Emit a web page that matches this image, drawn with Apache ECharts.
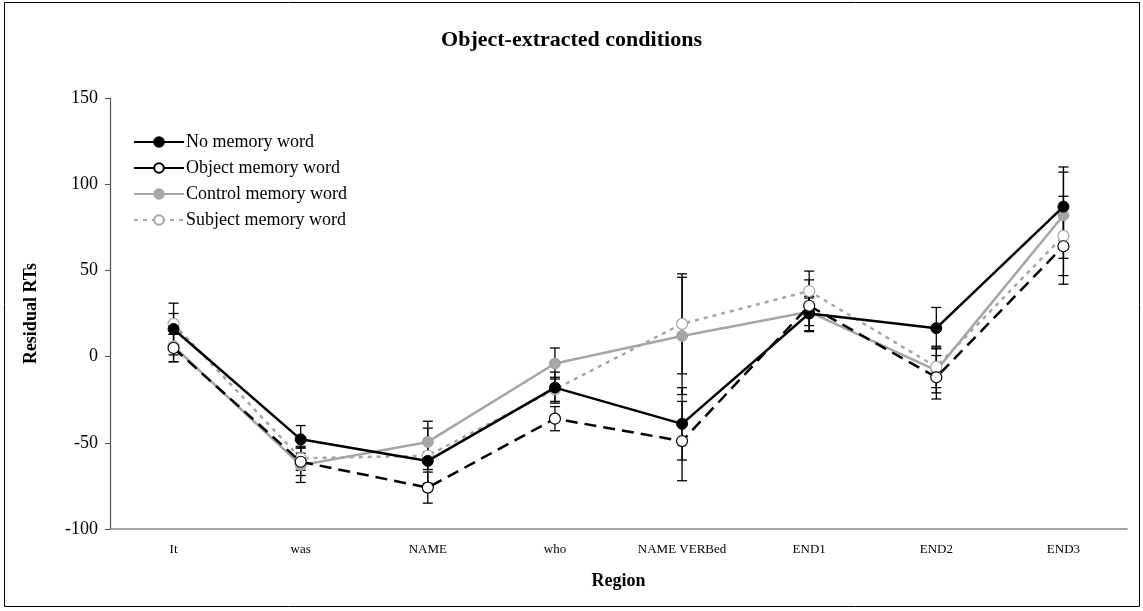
<!DOCTYPE html>
<html>
<head>
<meta charset="utf-8">
<script src="https://cdn.jsdelivr.net/npm/echarts@6/dist/echarts.min.js"></script>
<style>html,body{margin:0;padding:0;background:#fff}#c{width:1143px;height:611px}</style>
</head>
<body>
<div id="c"></div>
<script>
var categories = ['It', 'was', 'NAME', 'who', 'NAME VERBed', 'END1', 'END2', 'END3'];
var noMemory      = [16, -48, -60.5, -18, -39, 25, 16.5, 87];
var objectMemory  = [5, -61, -76, -36, -49, 29.5, -12, 64];
var controlMemory = [6, -63, -49.5, -4, 12, 26, -8, 82];
var subjectMemory = [19, -59, -57.5, -19, 19, 38, -6, 70];
var noMemoryErr      = [15, 8, 5, 9, 21, 10, 12, 23];
var objectMemoryErr  = [8, 8, 9, 7, 23, 15, 12.6, 22];
var controlMemoryErr = [9, 10, 12, 9, 34, 8, 13, 25];
var subjectMemoryErr = [6, 7, 16, 7, 29, 11.6, 12, 23];
var yTicks = [-100, -50, 0, 50, 100, 150];

var serif = '"Liberation Serif","DejaVu Serif",serif';
var gray = '#a6a6a6';

function errData(vals, errs) {
  return vals.map(function (v, i) { return [i, v - errs[i], v + errs[i]]; });
}
function errSeries(vals, errs) {
  return {
    type: 'custom',
    z: 1,
    silent: true,
    data: errData(vals, errs),
    encode: { x: 0, y: [1, 2] },
    renderItem: function (params, api) {
      var x = api.value(0);
      var lo = api.coord([x, api.value(1)]);
      var hi = api.coord([x, api.value(2)]);
      var w = 5;
      var st = { stroke: '#000', lineWidth: 1.3 };
      return {
        type: 'group',
        children: [
          { type: 'line', shape: { x1: lo[0], y1: lo[1], x2: hi[0], y2: hi[1] }, style: st },
          { type: 'line', shape: { x1: lo[0] - w, y1: lo[1], x2: lo[0] + w, y2: lo[1] }, style: st },
          { type: 'line', shape: { x1: hi[0] - w, y1: hi[1], x2: hi[0] + w, y2: hi[1] }, style: st }
        ]
      };
    }
  };
}

var chart = echarts.init(document.getElementById('c'), null, { renderer: 'canvas' });
chart.setOption({
  animation: false,
  backgroundColor: '#fff',
  title: {
    text: 'Object-extracted conditions',
    left: 'center',
    top: 24,
    textStyle: { fontFamily: serif, fontSize: 22, fontWeight: 'bold', color: '#000' }
  },
  graphic: [{
    type: 'rect',
    shape: { x: 4.5, y: 2.5, width: 1135, height: 604 },
    style: { fill: null, stroke: '#000', lineWidth: 1 },
    silent: true
  }],
  legend: {
    orient: 'vertical',
    left: 128,
    top: 128,
    itemGap: 8,
    itemWidth: 50,
    itemHeight: 12,
    data: [
      'No memory word',
      { name: 'Object memory word', lineStyle: { type: 'solid' } },
      'Control memory word',
      'Subject memory word'
    ],
    textStyle: { fontFamily: serif, fontSize: 18, color: '#000', padding: [0, 0, 0, -3] }
  },
  grid: { left: 110, right: 16, top: 98, bottom: 82, containLabel: false },
  xAxis: {
    type: 'category',
    data: categories,
    boundaryGap: true,
    name: 'Region',
    nameLocation: 'middle',
    nameGap: 43,
    nameTextStyle: { fontFamily: serif, fontSize: 18, fontWeight: 'bold', color: '#000' },
    axisLine: { onZero: false, lineStyle: { color: '#888', width: 1.5 } },
    axisTick: { show: false },
    axisLabel: { fontFamily: serif, fontSize: 13, color: '#000', margin: 14 }
  },
  yAxis: {
    type: 'value',
    min: -100,
    max: 150,
    interval: 50,
    name: 'Residual RTs',
    nameLocation: 'middle',
    nameGap: 70,
    nameTextStyle: { fontFamily: serif, fontSize: 18, fontWeight: 'bold', color: '#000' },
    axisLine: { show: true, lineStyle: { color: '#555', width: 1.2 } },
    axisTick: { show: true, length: 5, inside: false, lineStyle: { color: '#555' } },
    splitLine: { show: false },
    axisLabel: {
      fontFamily: serif, fontSize: 18, color: '#000', margin: 12,
      formatter: function (v) { return yTicks.indexOf(v) >= 0 ? String(v) : ''; }
    }
  },
  series: [
    errSeries(noMemory, noMemoryErr),
    errSeries(objectMemory, objectMemoryErr),
    errSeries(controlMemory, controlMemoryErr),
    errSeries(subjectMemory, subjectMemoryErr),
    {
      name: 'Control memory word', type: 'line', z: 3, data: controlMemory,
      symbol: 'circle', symbolSize: 11,
      lineStyle: { color: gray, width: 2.5 },
      itemStyle: { color: gray, borderColor: gray, borderWidth: 1 }
    },
    {
      name: 'Subject memory word', type: 'line', z: 3, data: subjectMemory,
      symbol: 'circle', symbolSize: 11,
      lineStyle: { color: gray, width: 2.5, type: [4, 5] },
      itemStyle: { color: '#fff', borderColor: gray, borderWidth: 1.2 }
    },
    {
      name: 'No memory word', type: 'line', z: 4, data: noMemory,
      symbol: 'circle', symbolSize: 11,
      lineStyle: { color: '#000', width: 2.5 },
      itemStyle: { color: '#000', borderColor: '#000', borderWidth: 1 }
    },
    {
      name: 'Object memory word', type: 'line', z: 4, data: objectMemory,
      symbol: 'circle', symbolSize: 11,
      lineStyle: { color: '#000', width: 2.5, type: [12, 7] },
      itemStyle: { color: '#fff', borderColor: '#000', borderWidth: 1.2 }
    }
  ]
});
</script>
</body>
</html>
